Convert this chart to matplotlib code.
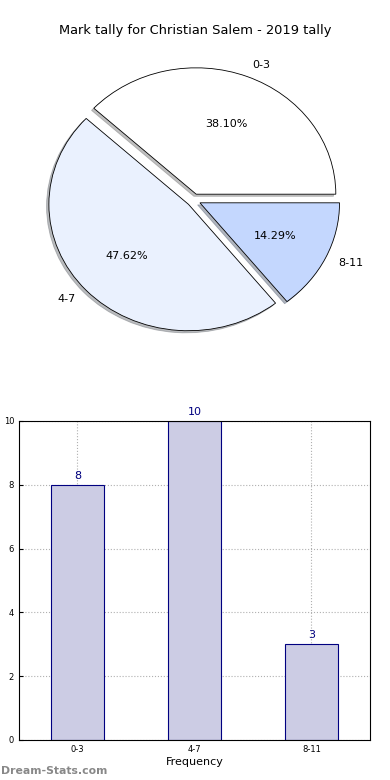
import matplotlib
matplotlib.use("Agg")
import matplotlib.pyplot as plt

# Mark tally data
categories = ["0-3", "4-7", "8-11"]
counts = [8, 10, 3]
pie_colors = ["#ffffff", "#eaf1fe", "#c4d7fe"]
explode = [0.05, 0.05, 0.05]

fig = plt.figure(figsize=(3.9, 7.8), dpi=100)
fig.patch.set_facecolor("white")

# Pie chart (top)
ax1 = fig.add_axes([0.049, 0.541, 0.895, 0.405])
wedges, texts, autotexts = ax1.pie(
    counts, labels=categories, colors=pie_colors, explode=explode,
    autopct="%.2f%%", shadow={"ox": -0.012, "oy": -0.012, "shade": 0.5},
    startangle=0,
    wedgeprops={"edgecolor": "black", "linewidth": 0.6},
    textprops={"fontsize": 8})
ax1.set_aspect("auto")
ax1.set_xlim(-1.25, 1.25)
ax1.set_ylim(-1.25, 1.25)
fig.text(0.5, 0.961, "Mark tally for Christian Salem - 2019 tally",
         ha="center", va="center", fontsize=9.4)

# Bar chart (bottom)
ax2 = fig.add_axes([0.0487, 0.0513, 0.9, 0.409])
x = range(len(categories))
bars = ax2.bar(x, counts, width=0.45, color="#ccccE4", edgecolor="navy",
               linewidth=0.8, zorder=2)
for xi, c in zip(x, counts):
    ax2.text(xi, c + 0.12, str(c), ha="center", va="bottom",
             color="navy", fontsize=8)
ax2.set_xlim(-0.5, 2.5)
ax2.set_ylim(0, 10)
ax2.set_xticks(list(x))
ax2.set_xticklabels(categories)
ax2.set_yticks(range(0, 11, 2))
ax2.tick_params(labelsize=6, length=3, direction="in")
ax2.grid(True, linestyle=":", color="#b0b0b0", linewidth=0.8, zorder=0)
ax2.set_xlabel("Frequency", fontsize=8, labelpad=2)
ax2.set_ylabel("Student Count", fontsize=7)
ax2.yaxis.set_label_coords(-0.06, 0.5)
for s in ax2.spines.values():
    s.set_linewidth(0.8)

fig.text(0.002, 0.012, "Dream-Stats.com", fontsize=7.8, color="#888888",
         fontweight="bold", ha="left", va="center")

plt.savefig("out.png", dpi=100)
plt.close()
